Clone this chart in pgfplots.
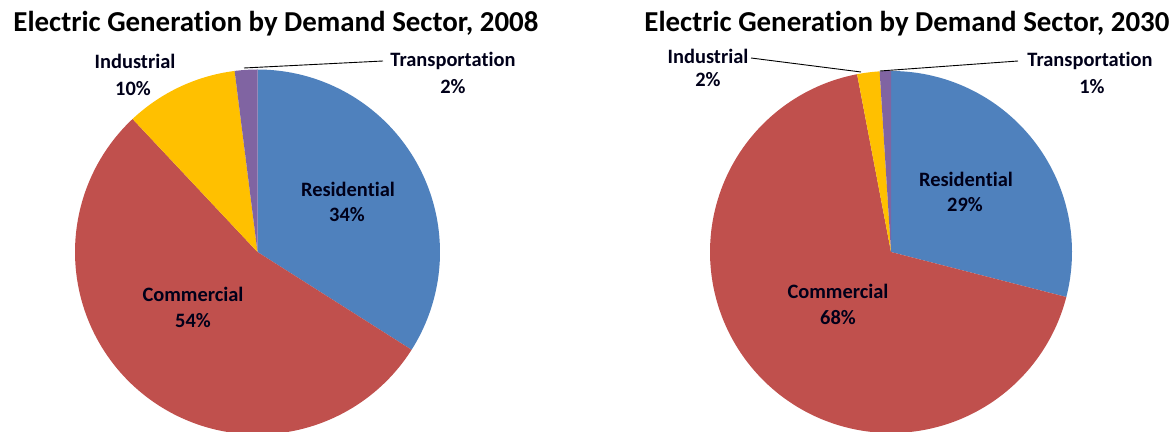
\documentclass[border=0pt]{standalone}
\usepackage{fontspec}
\setmainfont{Carlito}[Ligatures=NoCommon]
\usepackage{pgfplots}
\pgfplotsset{compat=1.18}
\definecolor{cRes}{HTML}{4F81BD}
\definecolor{cCom}{HTML}{C0504D}
\definecolor{cInd}{HTML}{FFC000}
\definecolor{cTra}{HTML}{8064A2}
\begin{document}
\begin{tikzpicture}[x=1bp,y=1bp]
\path[use as bounding box] (0,0) rectangle (1176,431);
\begin{axis}[at={(0,0)},anchor=south west,scale only axis,
  width=1176bp,height=431bp,xmin=0,xmax=1176,ymin=0,ymax=431,
  hide axis,clip=true]
% ---- 2008: Residential 34, Commercial 54, Industrial 10, Transportation 2 (clockwise from 12 o'clock)
\addplot[fill=cRes,draw=none,domain=-32.4:90,samples=80,variable=\t]
  ({257.5+182.5*cos(t)},{179+182.5*sin(t)}) -- (axis cs:257.5,179) -- cycle;
\addplot[fill=cCom,draw=none,domain=-226.8:-32.4,samples=120,variable=\t]
  ({257.5+182.5*cos(t)},{179+182.5*sin(t)}) -- (axis cs:257.5,179) -- cycle;
\addplot[fill=cInd,draw=none,domain=-262.8:-226.8,samples=30,variable=\t]
  ({257.5+182.5*cos(t)},{179+182.5*sin(t)}) -- (axis cs:257.5,179) -- cycle;
\addplot[fill=cTra,draw=none,domain=-270:-262.8,samples=10,variable=\t]
  ({257.5+182.5*cos(t)},{179+182.5*sin(t)}) -- (axis cs:257.5,179) -- cycle;
% ---- 2030: Residential 29, Commercial 68, Industrial 2, Transportation 1
\addplot[fill=cRes,draw=none,domain=-14.4:90,samples=80,variable=\t]
  ({891+181*cos(t)},{179+181*sin(t)}) -- (axis cs:891,179) -- cycle;
\addplot[fill=cCom,draw=none,domain=-259.2:-14.4,samples=150,variable=\t]
  ({891+181*cos(t)},{179+181*sin(t)}) -- (axis cs:891,179) -- cycle;
\addplot[fill=cInd,draw=none,domain=-266.4:-259.2,samples=10,variable=\t]
  ({891+181*cos(t)},{179+181*sin(t)}) -- (axis cs:891,179) -- cycle;
\addplot[fill=cTra,draw=none,domain=-270:-266.4,samples=6,variable=\t]
  ({891+181*cos(t)},{179+181*sin(t)}) -- (axis cs:891,179) -- cycle;
% leader lines
\addplot[black,line width=0.9bp] coordinates {(244,363) (383,370)};
\addplot[black,line width=0.9bp] coordinates {(751,373) (861,359)};
\addplot[black,line width=0.9bp] coordinates {(880,360) (1018,370)};
% titles
\node[font=\fontsize{29}{33}\selectfont\bfseries,anchor=base] at (axis cs:276,399) {Electric Generation by Demand Sector, 2008};
\node[font=\fontsize{29}{33}\selectfont\bfseries,anchor=base] at (axis cs:907,399) {Electric Generation by Demand Sector, 2030};
% labels
\begin{scope}[every node/.style={font=\fontsize{20.5}{24}\selectfont\bfseries,anchor=base,inner sep=0pt,text=black!90!blue}]
\node at (axis cs:348,234) {Residential};
\node at (axis cs:347,209) {34\%};
\node at (axis cs:193,129) {Commercial};
\node at (axis cs:193,104) {54\%};
\node at (axis cs:135,362) {Industrial};
\node at (axis cs:133,335) {10\%};
\node at (axis cs:453,364) {Transportation};
\node at (axis cs:453,337) {2\%};
\node at (axis cs:966,244) {Residential};
\node at (axis cs:965,219) {29\%};
\node at (axis cs:838,132) {Commercial};
\node at (axis cs:838,107) {68\%};
\node at (axis cs:708,367) {Industrial};
\node at (axis cs:708,344) {2\%};
\node at (axis cs:1090,364) {Transportation};
\node at (axis cs:1092,337) {1\%};
\end{scope}
\end{axis}
\end{tikzpicture}
\end{document}
